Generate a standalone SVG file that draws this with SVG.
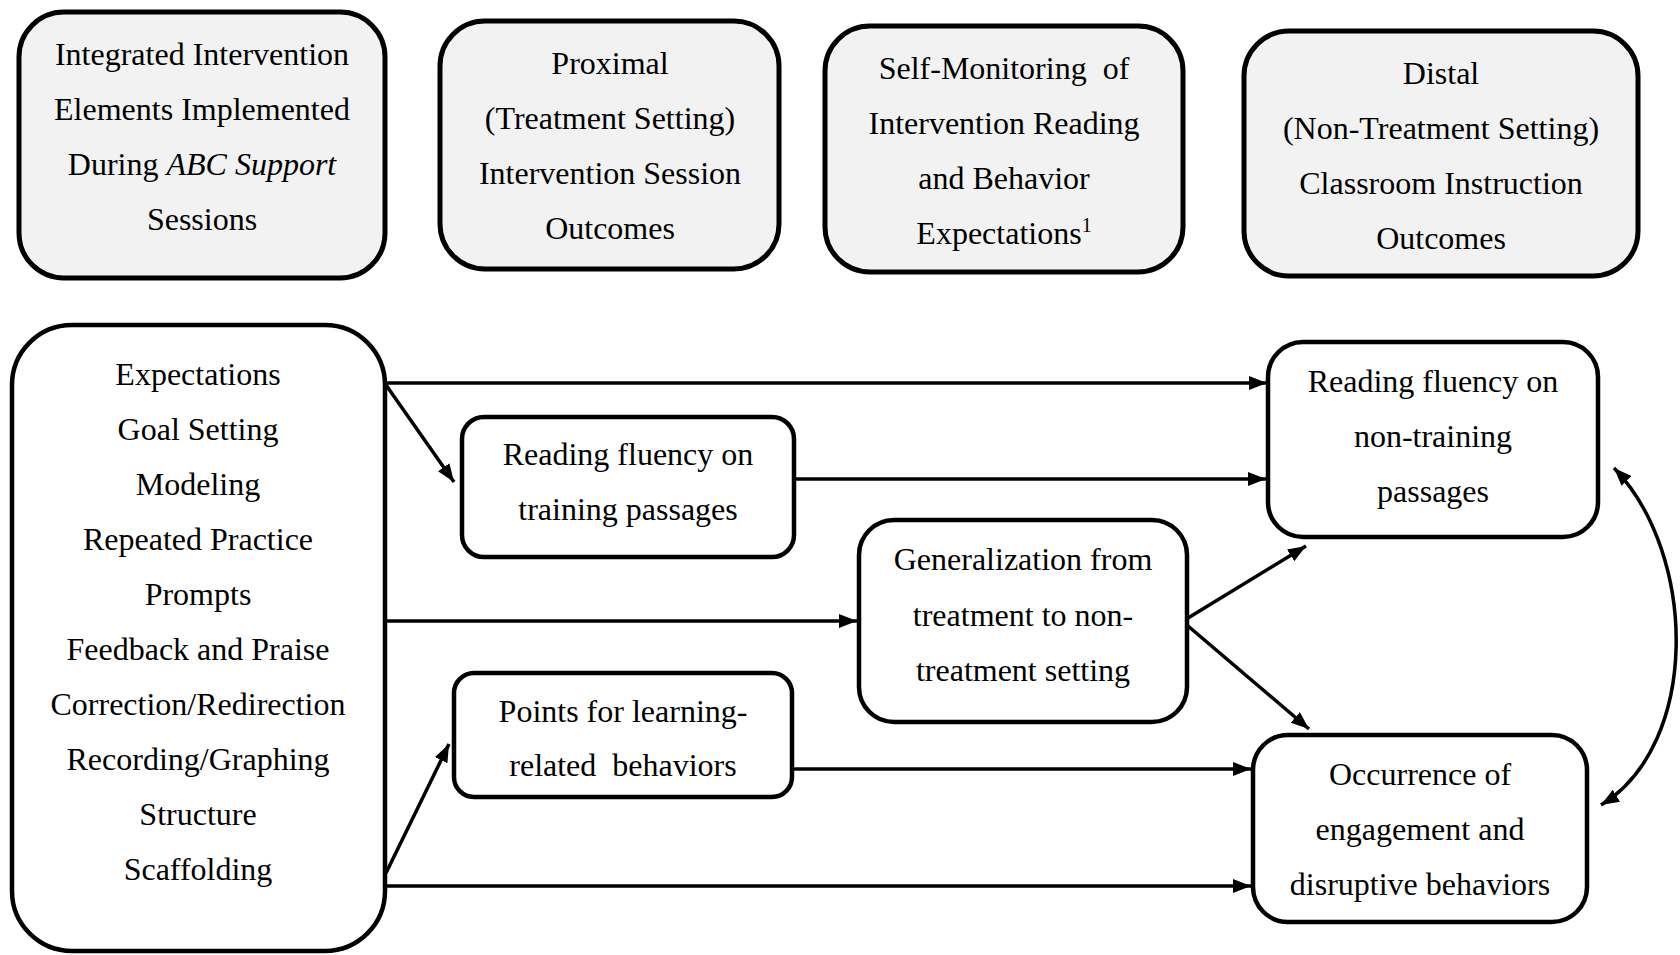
<svg xmlns="http://www.w3.org/2000/svg" width="1680" height="955" viewBox="0 0 1680 955">
<style>
text{font-family:"Liberation Serif","Times New Roman",serif;font-size:32px;fill:#000;text-anchor:middle;white-space:pre}
.hdr{fill:#f2f2f2;stroke:#000;stroke-width:5}
.nd{fill:#fff;stroke:#000;stroke-width:4.5}
.cn{fill:none;stroke:#000;stroke-width:3.5}
</style>
<defs>
<marker id="ah" markerUnits="userSpaceOnUse" markerWidth="20" markerHeight="16" refX="18" refY="7" orient="auto-start-reverse">
<path d="M0,0 L18,7 L0,14 Z" fill="#000"/>
</marker>
</defs>
<rect width="1680" height="955" fill="#fff"/>
<g id="h1"><rect class="hdr" x="19" y="12" width="366" height="266" rx="45"/>
<text x="202" y="65">Integrated Intervention</text>
<text x="202" y="120">Elements Implemented</text>
<text x="202" y="175">During <tspan font-style="italic">ABC Support</tspan></text>
<text x="202" y="230">Sessions</text></g>
<g id="h2"><rect class="hdr" x="440" y="21" width="339" height="248" rx="45"/>
<text x="610" y="74">Proximal</text>
<text x="610" y="129">(Treatment Setting)</text>
<text x="610" y="184">Intervention Session</text>
<text x="610" y="239">Outcomes</text></g>
<g id="h3"><rect class="hdr" x="825" y="26" width="358" height="246" rx="45"/>
<text x="1004" y="79">Self-Monitoring  of</text>
<text x="1004" y="134">Intervention Reading</text>
<text x="1004" y="189">and Behavior</text>
<text x="1004" y="244">Expectations<tspan font-size="20" dy="-12">1</tspan></text></g>
<g id="h4"><rect class="hdr" x="1244" y="31" width="394" height="245" rx="45"/>
<text x="1441" y="84">Distal</text>
<text x="1441" y="139">(Non-Treatment Setting)</text>
<text x="1441" y="194">Classroom Instruction</text>
<text x="1441" y="249">Outcomes</text></g>
<g id="elements"><rect class="nd" x="12" y="325" width="373" height="626" rx="60"/>
<text x="198" y="385">Expectations</text>
<text x="198" y="440">Goal Setting</text>
<text x="198" y="495">Modeling</text>
<text x="198" y="550">Repeated Practice</text>
<text x="198" y="605">Prompts</text>
<text x="198" y="660">Feedback and Praise</text>
<text x="198" y="715">Correction/Redirection</text>
<text x="198" y="770">Recording/Graphing</text>
<text x="198" y="825">Structure</text>
<text x="198" y="880">Scaffolding</text></g>
<g id="training"><rect class="nd" x="462" y="417" width="332" height="140" rx="22"/>
<text x="628" y="465">Reading fluency on</text>
<text x="628" y="520">training passages</text></g>
<g id="nontraining"><rect class="nd" x="1268" y="342" width="330" height="195" rx="35"/>
<text x="1433" y="392">Reading fluency on</text>
<text x="1433" y="447">non-training</text>
<text x="1433" y="502">passages</text></g>
<g id="generalization"><rect class="nd" x="859" y="520" width="328" height="202" rx="35"/>
<text x="1023" y="570">Generalization from</text>
<text x="1023" y="626">treatment to non-</text>
<text x="1023" y="681">treatment setting</text></g>
<g id="points"><rect class="nd" x="454" y="673" width="338" height="124" rx="20"/>
<text x="623" y="722">Points for learning-</text>
<text x="623" y="776">related  behaviors</text></g>
<g id="occurrence"><rect class="nd" x="1253" y="735" width="334" height="187" rx="35"/>
<text x="1420" y="785">Occurrence of</text>
<text x="1420" y="840">engagement and</text>
<text x="1420" y="895">disruptive behaviors</text></g>
<g id="connectors">
<line class="cn" x1="386" y1="383" x2="1267" y2="383" marker-end="url(#ah)"/>
<line class="cn" x1="386" y1="385" x2="454" y2="482" marker-end="url(#ah)"/>
<line class="cn" x1="794" y1="479" x2="1266" y2="479" marker-end="url(#ah)"/>
<line class="cn" x1="386" y1="621" x2="857" y2="621" marker-end="url(#ah)"/>
<line class="cn" x1="1188" y1="618" x2="1306" y2="546" marker-end="url(#ah)"/>
<line class="cn" x1="1188" y1="626" x2="1309" y2="729" marker-end="url(#ah)"/>
<line class="cn" x1="792" y1="769" x2="1251" y2="769" marker-end="url(#ah)"/>
<line class="cn" x1="386" y1="873" x2="449" y2="744" marker-end="url(#ah)"/>
<line class="cn" x1="386" y1="886" x2="1251" y2="886" marker-end="url(#ah)"/>
<path class="cn" d="M1614,468 C1698,555 1700,745 1601,805" marker-start="url(#ah)" marker-end="url(#ah)"/>
</g>
</svg>
